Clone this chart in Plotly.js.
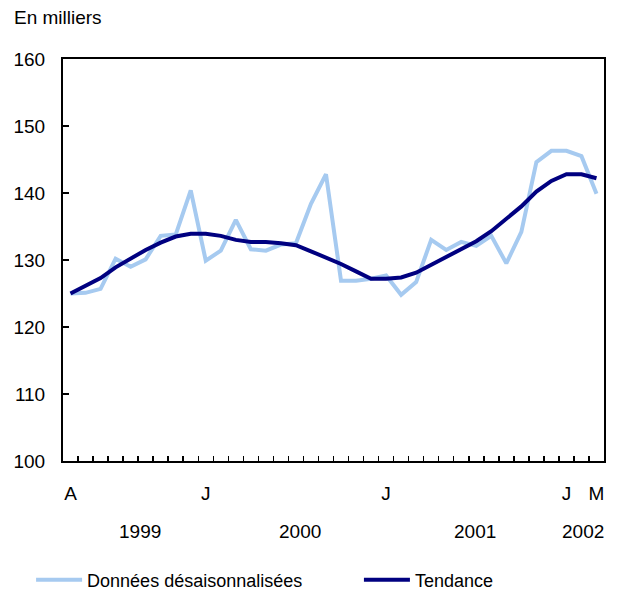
<!DOCTYPE html>
<html>
<head>
<meta charset="utf-8">
<script src="https://cdn.plot.ly/plotly-3.0.1.min.js"></script>
<style>html,body{margin:0;padding:0;background:#fff;}#chart{width:621px;height:609px;}</style>
</head>
<body>
<div id="chart"></div>
<script>
// Months April 1999 to March 2002
const months = [
  "1999-04","1999-05","1999-06","1999-07","1999-08","1999-09","1999-10","1999-11","1999-12",
  "2000-01","2000-02","2000-03","2000-04","2000-05","2000-06","2000-07","2000-08","2000-09","2000-10","2000-11","2000-12",
  "2001-01","2001-02","2001-03","2001-04","2001-05","2001-06","2001-07","2001-08","2001-09","2001-10","2001-11","2001-12",
  "2002-01","2002-02","2002-03"
];
const monthLabels = [
  "A","","","","","","","","",
  "J","","","","","","","","","","","",
  "J","","","","","","","","","","","",
  "J","","M"
];
const seasonallyAdjusted = [
  125.0,125.1,125.7,130.2,129.0,130.1,133.6,133.8,140.4,
  129.9,131.4,136.0,131.6,131.4,132.3,132.5,138.4,142.8,126.9,126.9,127.2,
  127.7,124.8,126.7,133.0,131.5,132.7,132.1,133.6,129.5,134.2,144.6,146.3,
  146.3,145.5,139.9
];
const trend = [
  125.0,126.2,127.3,128.9,130.2,131.5,132.6,133.5,133.9,
  133.9,133.6,133.0,132.7,132.7,132.5,132.2,131.3,130.4,129.4,128.3,127.2,
  127.2,127.4,128.1,129.3,130.4,131.6,132.8,134.3,136.1,138.0,140.2,141.8,
  142.8,142.8,142.2
];
const years = ["1999","2000","2001","2002"];
const yearPositions = [4.6, 15.3, 26.9, 34.1];
const yTicks = [100,110,120,130,140,150,160];

const FONT = "Liberation Sans, Arial, sans-serif";

const traces = [
  {x: months, y: seasonallyAdjusted, type: "scatter", mode: "lines",
   name: "Données désaisonnalisées", legend: "legend", line: {color: "#A6CAF0", width: 4}},
  {x: months, y: trend, type: "scatter", mode: "lines",
   name: "Tendance", legend: "legend2", line: {color: "#000080", width: 4}}
];

const annotations = [
  {text: "En milliers", xref: "paper", yref: "paper", x: -51/541, y: (461-18)/402,
   xanchor: "left", yanchor: "middle", showarrow: false, font: {family: FONT, size: 19, color: "#000"}}
];
years.forEach((yr, i) => {
  annotations.push({text: yr, xref: "x", yref: "paper", x: yearPositions[i], y: -(531-461)/402,
    xanchor: "center", yanchor: "middle", showarrow: false, font: {family: FONT, size: 19, color: "#000"}});
});

const legendBase = {orientation: "h", xanchor: "left", yanchor: "middle", y: -(580-461)/402,
  font: {family: FONT, size: 18, color: "#000"}, itemwidth: 46, bgcolor: "rgba(0,0,0,0)", borderwidth: 0};

const layout = {
  width: 621, height: 609,
  margin: {l: 63, r: 17, t: 59, b: 148, autoexpand: false},
  paper_bgcolor: "#fff", plot_bgcolor: "#fff",
  font: {family: FONT, size: 19, color: "#000"},
  showlegend: true,
  legend: Object.assign({}, legendBase, {x: -0.059}),
  legend2: Object.assign({}, legendBase, {x: 0.547}),
  xaxis: {type: "category", categoryorder: "array", categoryarray: months,
    range: [-0.5, 35.5], tickmode: "array", tickvals: months, ticktext: monthLabels,
    tickangle: 0, tickson: "boundaries", ticks: "inside", ticklen: 5, tickwidth: 1.5, tickcolor: "#000",
    showline: true, linecolor: "#000", linewidth: 2, mirror: true,
    showgrid: false, zeroline: false, ticklabelstandoff: 14,
    tickfont: {family: FONT, size: 19, color: "#000"}},
  yaxis: {range: [100, 160], tickmode: "array", tickvals: yTicks,
    ticks: "inside", ticklen: 6, tickwidth: 1.5, tickcolor: "#000",
    showline: true, linecolor: "#000", linewidth: 2, mirror: true,
    showgrid: false, zeroline: false, ticklabelstandoff: 12,
    tickfont: {family: FONT, size: 19, color: "#000"}},
  annotations: annotations
};

Plotly.newPlot("chart", traces, layout, {displayModeBar: false, staticPlot: true});
</script>
</body>
</html>
